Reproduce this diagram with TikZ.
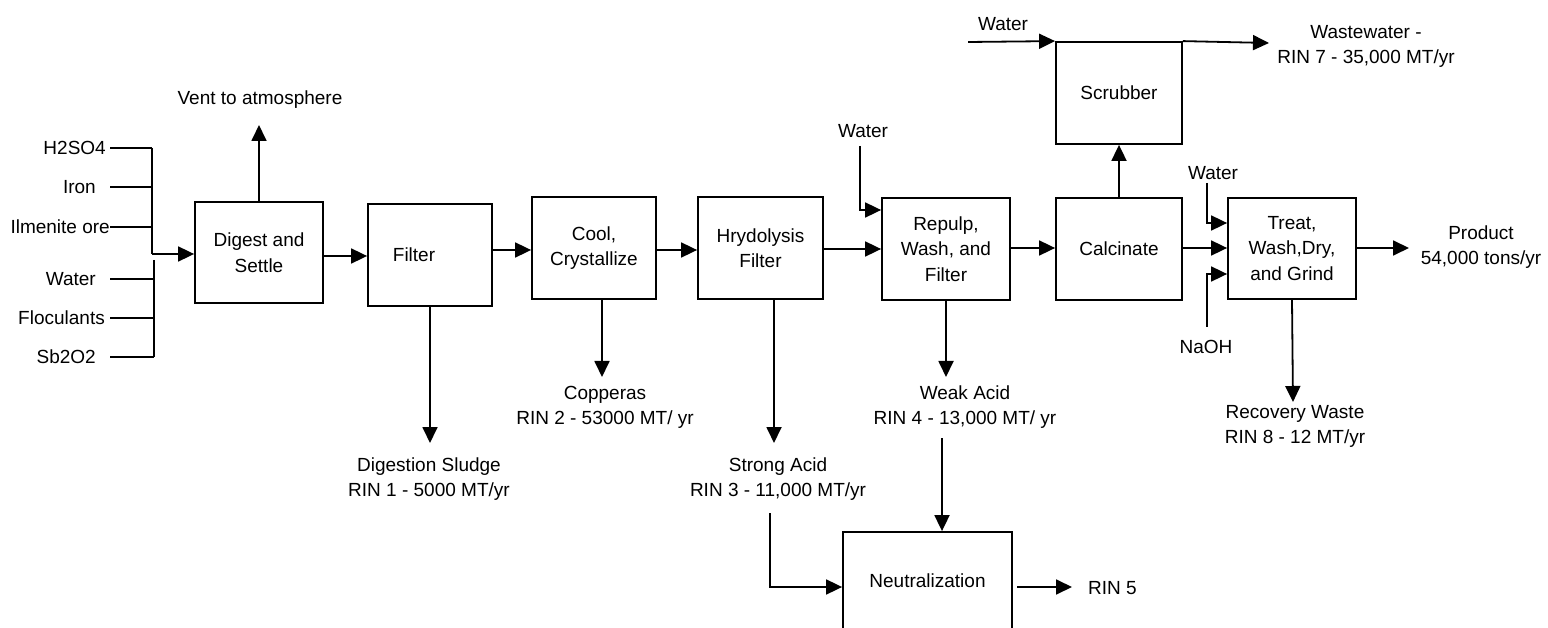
\documentclass[tikz,border=0pt]{standalone}
\usepackage{fontspec}
\setmainfont{Liberation Sans}
\usetikzlibrary{arrows.meta}
\begin{document}
\begin{tikzpicture}[x=1pt,y=-1pt,
  box/.style={draw,line width=1.8pt,align=center,inner sep=0pt,font=\fontsize{19}{25.5}\selectfont},
  lbl/.style={align=center,inner sep=0pt,font=\fontsize{19}{25}\selectfont},
  ln/.style={line width=1.8pt},
  arr/.style={line width=1.8pt,-{Triangle[length=16pt,width=15pt]}}]
\useasboundingbox (0,0) rectangle (1548,628);
\clip (0,0) rectangle (1548,628);
% process boxes
\node[box,minimum width=128pt,minimum height=101pt] (digest) at (259,252.5) {Digest and\\Settle};
\node[box,minimum width=124pt,minimum height=102pt,label={[lbl,xshift=-16pt]center:Filter}] (filter) at (430,255) {};
\node[box,minimum width=124pt,minimum height=102pt] (cool) at (594,248) {Cool,\\Crystallize};
\node[box,minimum width=125pt,minimum height=102pt] (hydro) at (760.5,248) {Hrydolysis\\Filter};
\node[box,minimum width=128pt,minimum height=102pt] (repulp) at (946,249) {Repulp,\\Wash, and\\Filter};
\node[box,minimum width=126pt,minimum height=102pt] (calc) at (1119,249) {Calcinate};
\node[box,minimum width=126pt,minimum height=102pt] (scrub) at (1119,93) {Scrubber};
\node[box,minimum width=128pt,minimum height=101pt] (treat) at (1292,248.5) {Treat,\\Wash,Dry,\\and Grind};
\node[box,minimum width=169pt,minimum height=112pt,label={[lbl,yshift=7pt]center:Neutralization}] (neut) at (927.5,588) {};
% left input labels
\node[lbl,anchor=east] (h2so4) at (106,148) {H2SO4};
\node[lbl,anchor=east] (iron) at (96,187) {Iron};
\node[lbl,anchor=east] (ilm) at (110,227) {Ilmenite ore};
\node[lbl,anchor=east] (wat1) at (96,279) {Water};
\node[lbl,anchor=east] (floc) at (105,318) {Floculants};
\node[lbl,anchor=east] (sb) at (96,357) {Sb2O2};
\coordinate (h2s) at (110,148);
\coordinate (irs) at (110,187);
\coordinate (ils) at (110,227);
\coordinate (w1s) at (110,279);
\coordinate (fls) at (110,318);
\coordinate (sbs) at (110,357);
\coordinate (bus1top) at (152,148);
\coordinate (bus1bot) at (152,254);
\coordinate (bus2top) at (154,260);
\coordinate (bus2bot) at (154,357);
\draw[ln] (h2s) -- (bus1top);
\draw[ln] (irs) -- (bus1top |- irs);
\draw[ln] (ils) -- (bus1top |- ils);
\draw[ln] (bus1top) -- (bus1bot);
\draw[arr] (bus1bot) -- (digest.west |- bus1bot);
\draw[ln] (w1s) -- (bus2top |- w1s);
\draw[ln] (fls) -- (bus2top |- fls);
\draw[ln] (sbs) -- (bus2bot);
\draw[ln] (bus2top) -- (bus2bot);
% vent
\node[lbl] (vent) at (260,100) {Vent to atmosphere};
\coordinate (venttip) at (259,125);
\draw[arr] (digest.north) -- (venttip);
% main line
\draw[arr] (digest.east |- 0,256) -- (filter.west |- 0,256);
\draw[arr] (filter.east |- 0,250) -- (cool.west |- 0,250);
\draw[arr] (cool.east |- 0,250) -- (hydro.west |- 0,250);
\draw[arr] (hydro.east |- 0,249) -- (repulp.west |- 0,249);
\draw[arr] (repulp.east |- 0,248) -- (calc.west |- 0,248);
\draw[arr] (calc.east |- 0,248) -- (treat.west |- 0,248);
\draw[arr] (calc.north) -- (scrub.south);
% outputs downwards
\node[lbl] (sludge) at (429,479.5) {Digestion Sludge\\RIN 1 - 5000 MT/yr};
\draw[arr] (filter.south) -- (430,443) coordinate (sludgetip);
\node[lbl] (copp) at (605,407.5) {Copperas\\RIN 2 - 53000 MT/ yr};
\draw[arr] (cool.south -| 602,0) -- (602,377) coordinate (copptip);
\node[lbl] (strong) at (778,479.5) {Strong Acid\\RIN 3 - 11,000 MT/yr};
\draw[arr] (hydro.south -| 774,0) -- (774,443) coordinate (strongtip);
\node[lbl] (weak) at (965,407.5) {Weak Acid\\RIN 4 - 13,000 MT/ yr};
\draw[arr] (repulp.south) -- (946,377) coordinate (weaktip);
\coordinate (strongstart) at (770,513);
\draw[arr] (strongstart) |- (neut.west |- 0,587);
\coordinate (weakstart) at (942,438);
\draw[arr] (weakstart) -- (neut.north -| weakstart);
\node[lbl,anchor=west] (rin5) at (1088,588) {RIN 5};
\draw[arr] (1017,587) coordinate (neutout) -- (1072,587);
% repulp water
\node[lbl] (wat2) at (863,131) {Water};
\coordinate (w2s) at (860,146);
\draw[arr] (w2s) |- (repulp.west |- 0,210);
% scrubber
\node[lbl] (wat3) at (1003,24) {Water};
\coordinate (w3s) at (968,42);
\draw[arr] (w3s) -- (scrub.north west);
\node[lbl] (waste) at (1366,46) {Wastewater -\\RIN 7 - 35,000 MT/yr};
\draw[arr] (scrub.north east) -- (1269,43) coordinate (wastetip);
% treat inputs
\node[lbl] (wat4) at (1213,173) {Water};
\coordinate (w4s) at (1207,183);
\draw[arr] (w4s) |- (treat.west |- 0,223);
\node[lbl] (naoh) at (1206,347) {NaOH};
\coordinate (nas) at (1207,327);
\draw[arr] (nas) |- (treat.west |- 0,274);
% product
\node[lbl] (prod) at (1481,247) {Product\\54,000 tons/yr};
\draw[arr] (treat.east |- 0,248) -- (1409,248) coordinate (prodtip);
\node[lbl] (recov) at (1295,426.5) {Recovery Waste\\RIN 8 - 12 MT/yr};
\draw[arr] (treat.south) -- (1293,402) coordinate (recovtip);
\end{tikzpicture}
\end{document}
